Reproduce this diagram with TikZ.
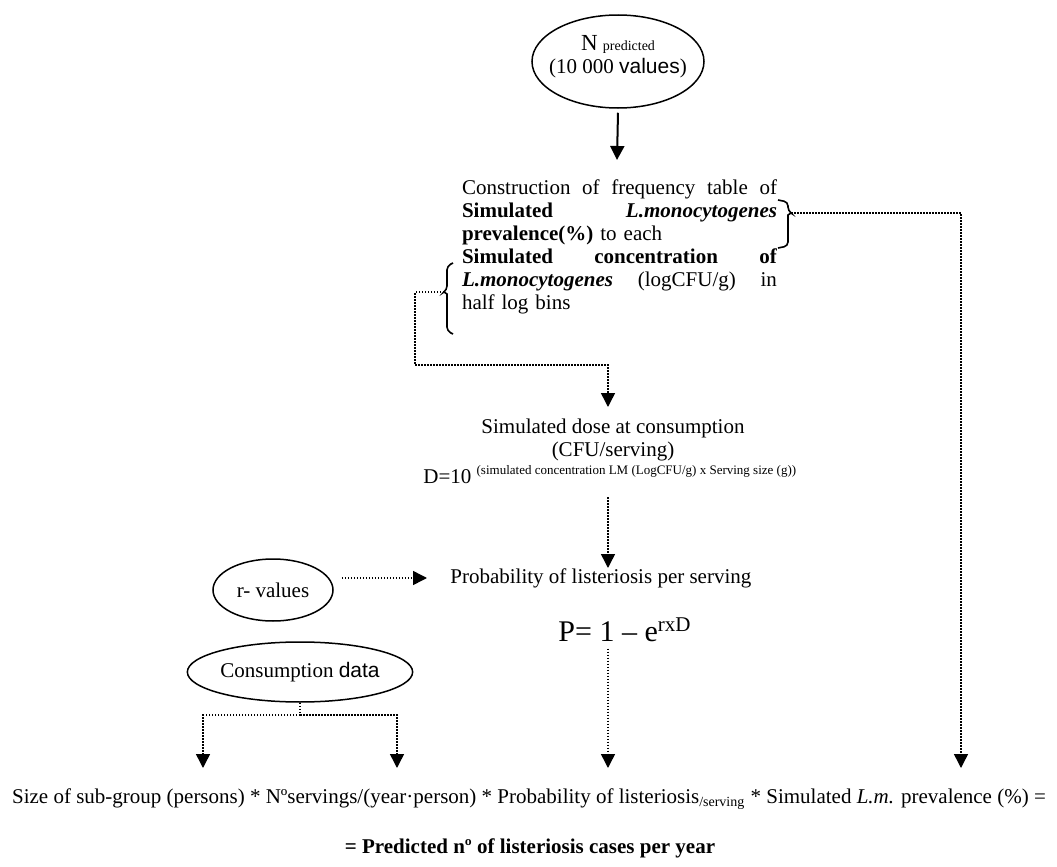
\documentclass[tikz,border=0pt]{standalone}
\usepackage{fontspec}
\setmainfont{Liberation Serif}
\newfontfamily\arialfont{Liberation Sans}
\usetikzlibrary{shapes.geometric,arrows.meta}

\newcommand{\fullline}[1]{\leavevmode\hbox to 157.5pt{\spaceskip=0.25em plus 1fil #1}}

\tikzset{
  oval/.style = {draw, ellipse, line width=0.75pt, inner sep=0pt},
  plain/.style = {inner sep=0pt},
  dotline/.style = {line width=0.75pt, dash pattern=on 0.75pt off 0.75pt},
  dotarrow/.style = {dotline, -{Triangle[width=7pt,length=7pt]}},
  solidarrow/.style = {line width=1pt, -{Triangle[width=7pt,length=7pt]}},
  bracket/.style = {line width=0.8pt, rounded corners=2pt}
}

\begin{document}
\begin{tikzpicture}[x=0.5pt, y=-0.5pt, every node/.style={font=\fontsize{10.5}{11.5}\selectfont}]
\useasboundingbox (0,0) rectangle (1057,867);
\node [oval, minimum width=86pt, minimum height=46.5pt] (npred) at (618,61.5) {};
\node [plain, align=center] (npredtxt) at (618,57) {{\fontsize{11.5}{12}\selectfont N} {\fontsize{7}{8}\selectfont predicted}\\(10 000 {\arialfont values})};
\node [plain, text width=157.5pt] (freq) at (619.5,247) {\fullline{Construction of frequency table of}\\
\fullline{\textbf{Simulated} \textbf{\textit{L.monocytogenes}}}\\
\textbf{prevalence(\%)} to each\\
\fullline{\textbf{Simulated concentration of}}\\
\fullline{\textbf{\textit{L.monocytogenes}} (logCFU/g) in}\\
half log bins};
\draw [bracket] (778,200) -- (788,202) -- (788,211) [sharp corners] -- (791,213) -- (788,215) [rounded corners=2pt] -- (788,246) -- (778,248);
\coordinate (rb) at (791,213);
\draw [bracket] (453,263) -- (447,266) -- (447,290) [sharp corners] -- (444,292) -- (447,294) [rounded corners=2pt] -- (447,331) -- (453,334);
\coordinate (lb) at (444,292);
\node [plain, align=center] (dose) at (613,440) {Simulated dose at consumption\\(CFU/serving)};
\node [plain, anchor=base west] (dform) at (423,483) {D=10 \raisebox{4.5pt}{\fontsize{6.5}{7}\selectfont (simulated concentration LM (LogCFU/g) x Serving size (g))}};
\node [oval, minimum width=60pt, minimum height=31pt] (rval) at (273,590) {r- values};
\node [plain, anchor=west] (prob) at (450,578) {Probability of listeriosis per serving};
\node [plain, font=\fontsize{15}{17}\selectfont] (pform) at (625,630) {P= 1 -- e\textsuperscript{rxD}};
\node [oval, minimum width=107pt, minimum height=30pt] (cons) at (300,672) {Consumption {\arialfont data}};
\node [plain] (eqn) at (529,799) {Size of sub-group (persons) * Nºservings/(year·person) * Probability of listeriosis\textsubscript{\fontsize{7}{8}\selectfont /serving} * Simulated \textit{L.m.} prevalence (\%) =};
\node [plain] (cases) at (530,848) {\textbf{= Predicted nº of listeriosis cases per year}};
\coordinate (lbend) at (415,365);
\coordinate (cjoin) at (300,715);
\coordinate (c1) at (203,768);
\coordinate (c2) at (397,768);
\coordinate (c3) at (608,768);
\coordinate (c4) at (961,768);
\draw [solidarrow] (npred.south) ++(0,4) -- (617,160);
\draw [dotarrow] (rb) -| (c4);
\draw [dotarrow] (lb) -| (lbend) -| (608,407);
\draw [dotarrow] (608,497) -- (608,568);
\draw [dotarrow] (rval.east |- prob.west) ++(8,0) -- (427,578);
\draw [dotarrow] (pform.south -| c3) ++(0,6) -- (c3);
\draw [dotline] (cons.south) -- (cjoin);
\draw [dotarrow] (cjoin) -| (c1);
\draw [dotarrow] (cjoin) -| (c2);
\end{tikzpicture}
\end{document}
